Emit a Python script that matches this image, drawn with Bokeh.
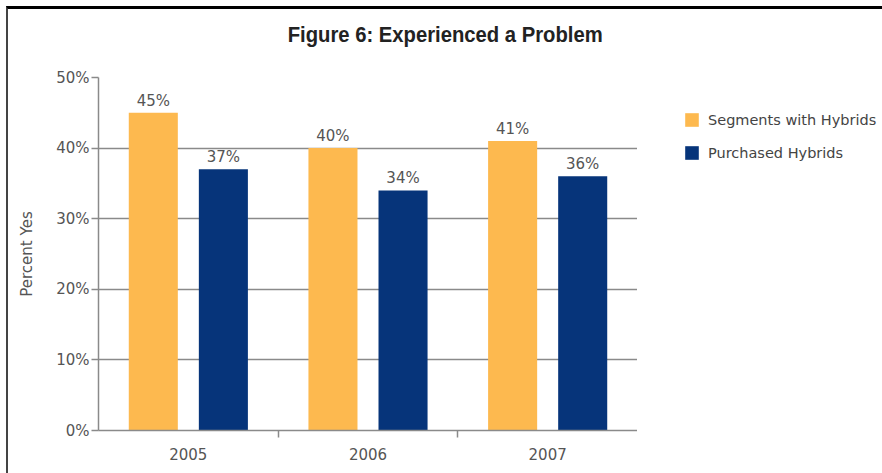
from bokeh.plotting import figure
from bokeh.layouts import column, row
from bokeh.models import (ColumnDataSource, FixedTicker, LabelSet, Legend,
                          LegendItem, Div)
from bokeh.core.properties import value
from bokeh.transform import dodge
from bokeh.embed import file_html
from bokeh.resources import INLINE

# Chart data
years = ["2005", "2006", "2007"]
segments_with_hybrids = [45, 40, 41]
purchased_hybrids = [37, 34, 36]
series_names = ["Segments with Hybrids", "Purchased Hybrids"]
y_ticks = [0, 10, 20, 30, 40, 50]
y_tick_labels = ["0%", "10%", "20%", "30%", "40%", "50%"]
title_text = "Figure 6: Experienced a Problem"
y_axis_title = "Percent Yes"

# Styling
ORANGE = "#FDB94F"
NAVY = "#06347A"
GRID = "#8a8a8a"
TEXT = "#555555"
FONT = "DejaVu Sans"
COLORS = [ORANGE, NAVY]
SERIES_FIELDS = ["seg", "pur"]

x_centers = [i + 0.5 for i in range(len(years))]
src = ColumnDataSource(dict(
    x=x_centers,
    seg=segments_with_hybrids,
    pur=purchased_hybrids,
    seg_lbl=[f"{v}%" for v in segments_with_hybrids],
    pur_lbl=[f"{v}%" for v in purchased_hybrids],
))

PLOT_H = 412
p = figure(width=629, height=PLOT_H, x_range=(0, len(years)), y_range=(0, 50),
           output_backend="svg", toolbar_location=None,
           min_border_left=90, min_border_right=0,
           min_border_top=16, min_border_bottom=43)
p.outline_line_color = None
p.background_fill_color = "white"
p.border_fill_color = "white"

BAR_W = 0.273
OFF = 0.195
offsets = [-OFF, OFF]
for fld, off, col in zip(SERIES_FIELDS, offsets, COLORS):
    p.vbar(x=dodge("x", off), top=fld, width=BAR_W, source=src,
           fill_color=col, line_color=None)
    p.add_layout(LabelSet(x=dodge("x", off), y=fld, text=f"{fld}_lbl", source=src,
                          text_align="center", text_baseline="bottom", y_offset=3,
                          text_font=value(FONT), text_font_size=value("15px"),
                          text_color=TEXT))

# y axis
ya = p.yaxis[0]
ya.ticker = FixedTicker(ticks=y_ticks)
ya.major_label_overrides = {t: l for t, l in zip(y_ticks, y_tick_labels)}
ya.axis_line_color = GRID
ya.axis_line_width = 1.5
ya.major_tick_out = 7
ya.major_tick_in = 0
ya.major_tick_line_color = GRID
ya.major_tick_line_width = 1.5
ya.minor_tick_line_color = None
ya.major_label_text_font = FONT
ya.major_label_text_font_size = "15px"
ya.major_label_text_color = TEXT
ya.major_label_standoff = 2
ya.axis_label = y_axis_title
ya.axis_label_text_font = FONT
ya.axis_label_text_font_style = "normal"
ya.axis_label_text_font_size = "15px"
ya.axis_label_text_color = TEXT
ya.axis_label_standoff = 17

# x axis: labels at category centres, ticks at category boundaries
xa = p.xaxis[0]
xa.ticker = FixedTicker(ticks=x_centers, minor_ticks=list(range(1, len(years))))
xa.major_label_overrides = {c: y for c, y in zip(x_centers, years)}
xa.axis_line_color = GRID
xa.axis_line_width = 1.5
xa.major_tick_line_color = None
xa.major_tick_out = 0
xa.major_tick_in = 0
xa.minor_tick_out = 7
xa.minor_tick_in = 0
xa.minor_tick_line_color = GRID
xa.minor_tick_line_width = 1.5
xa.major_label_text_font = FONT
xa.major_label_text_font_size = "15px"
xa.major_label_text_color = TEXT
xa.major_label_standoff = 10

p.xgrid.visible = False
p.ygrid.ticker = FixedTicker(ticks=y_ticks)
p.ygrid.grid_line_color = GRID
p.ygrid.grid_line_width = 1.5

# Legend panel to the right of the chart (its frame lines up with the chart's frame)
lg = figure(width=245, height=PLOT_H, x_range=(0, 1), y_range=(0, 1),
            x_axis_type=None, y_axis_type=None, output_backend="svg",
            toolbar_location=None, min_border=0)
lg.outline_line_color = None
lg.grid.visible = False
swatches = []
for fld, col in zip(SERIES_FIELDS, COLORS):
    r = lg.vbar(x="x", top=fld, width=BAR_W, source=src, fill_color=col, line_color=None)
    r.visible = False
    swatches.append(r)
legend = Legend(items=[LegendItem(label=n, renderers=[r]) for n, r in zip(series_names, swatches)],
                location=(46, 269), glyph_width=17, glyph_height=17,
                label_height=17, spacing=16, padding=0, margin=0,
                border_line_color=None, background_fill_alpha=0,
                inactive_fill_alpha=0,
                label_text_font=FONT, label_text_font_size="14.5px",
                label_text_color="#444444", label_standoff=8)
lg.add_layout(legend, "center")

title = Div(text=f'<span style="display:inline-block; transform:scaleX(0.92);">{title_text}</span>',
            width=874, height=52,
            styles={"text-align": "center", "font-family": "'Liberation Sans', Arial, sans-serif",
                    "font-weight": "bold", "font-size": "22px", "line-height": "52px",
                    "color": "#222222", "margin": "0", "padding": "0"})

page = column(title, row(p, lg, spacing=0), spacing=0,
              styles={"margin-left": "6px", "margin-top": "6px",
                      "border-left": "2px solid #444444",
                      "border-top": "3px solid #000000",
                      "background-color": "white"})

open("out.html", "w").write(file_html(page, INLINE))
